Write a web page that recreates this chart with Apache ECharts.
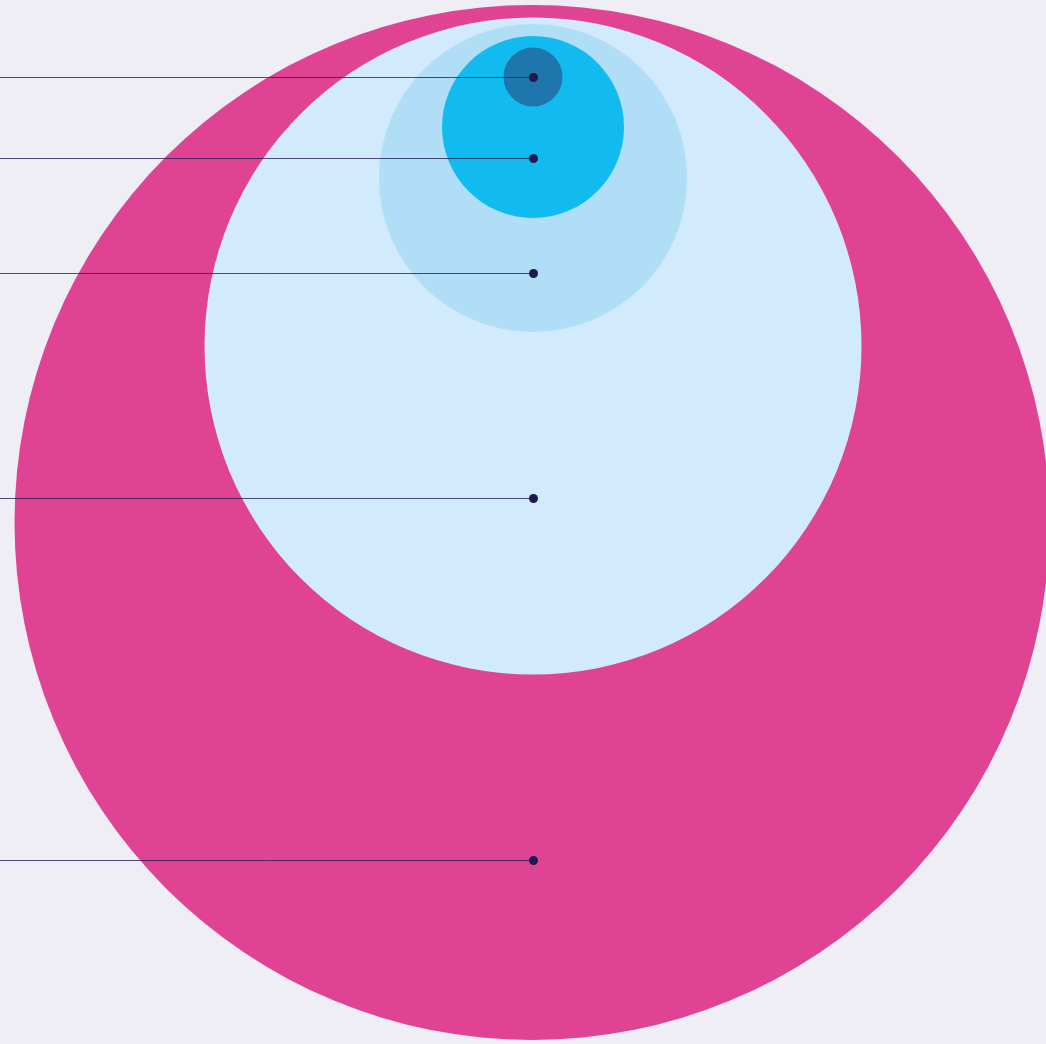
<!DOCTYPE html>
<html>
<head>
<meta charset="utf-8">
<script src="https://cdn.jsdelivr.net/npm/echarts@6/dist/echarts.min.js"></script>
<style>
  html, body { margin: 0; padding: 0; background: #efeef5; }
  #chart { width: 1046px; height: 1044px; }
</style>
</head>
<body>
<div id="chart"></div>
<script>
// nested circles, outermost first
var layerNames = ['Layer 1', 'Layer 2', 'Layer 3', 'Layer 4', 'Layer 5'];
var radius = [517.5, 328.5, 154, 91, 29.5];
var centerX = [532, 533, 533, 533, 533];
var centerY = [522.5, 346, 178, 127, 77];
var markerY = [860, 498, 273, 158, 77];
var colors = ['#e04393', '#d1ebfd', '#b0def7', '#11bbef', '#1e76ad'];

var circleData = layerNames.map(function (n, i) {
  return { name: n, value: [centerX[i], centerY[i], radius[i]] };
});
var markerData = layerNames.map(function (n, i) {
  return { name: n, value: [533, markerY[i]] };
});

var dom = document.getElementById('chart');
var myChart = echarts.init(dom);
var option = {
  backgroundColor: '#efeef5',
  animation: false,
  grid: { left: 0, right: 0, top: 0, bottom: 0 },
  xAxis: { type: 'value', min: 0, max: 1046, show: false },
  yAxis: { type: 'value', min: 0, max: 1044, inverse: true, show: false },
  series: [
    {
      type: 'custom',
      data: circleData,
      renderItem: function (params, api) {
        var c = api.coord([api.value(0), api.value(1)]);
        var r = api.size([api.value(2), 0])[0];
        return {
          type: 'circle',
          shape: { cx: c[0], cy: c[1], r: r },
          style: { fill: colors[params.dataIndex] }
        };
      }
    },
    {
      // leader lines from the left edge to each dot
      type: 'custom',
      data: markerData,
      z: 3,
      renderItem: function (params, api) {
        var p = api.coord([api.value(0), api.value(1)]);
        var start = api.coord([0, api.value(1)]);
        var ly = Math.round(p[1]) + 0.5;
        return {
          type: 'group',
          children: [
            {
              type: 'line',
              shape: { x1: start[0], y1: ly, x2: p[0], y2: ly },
              style: { stroke: 'rgba(36,32,92,0.8)', lineWidth: 1 }
            },
            {
              type: 'circle',
              shape: { cx: p[0] + 0.5, cy: ly, r: 4.5 },
              style: { fill: '#1c1a4f' }
            }
          ]
        };
      }
    }
  ]
};
if (option && typeof option === 'object') {
  myChart.setOption(option, true);
}
</script>
</body>
</html>
